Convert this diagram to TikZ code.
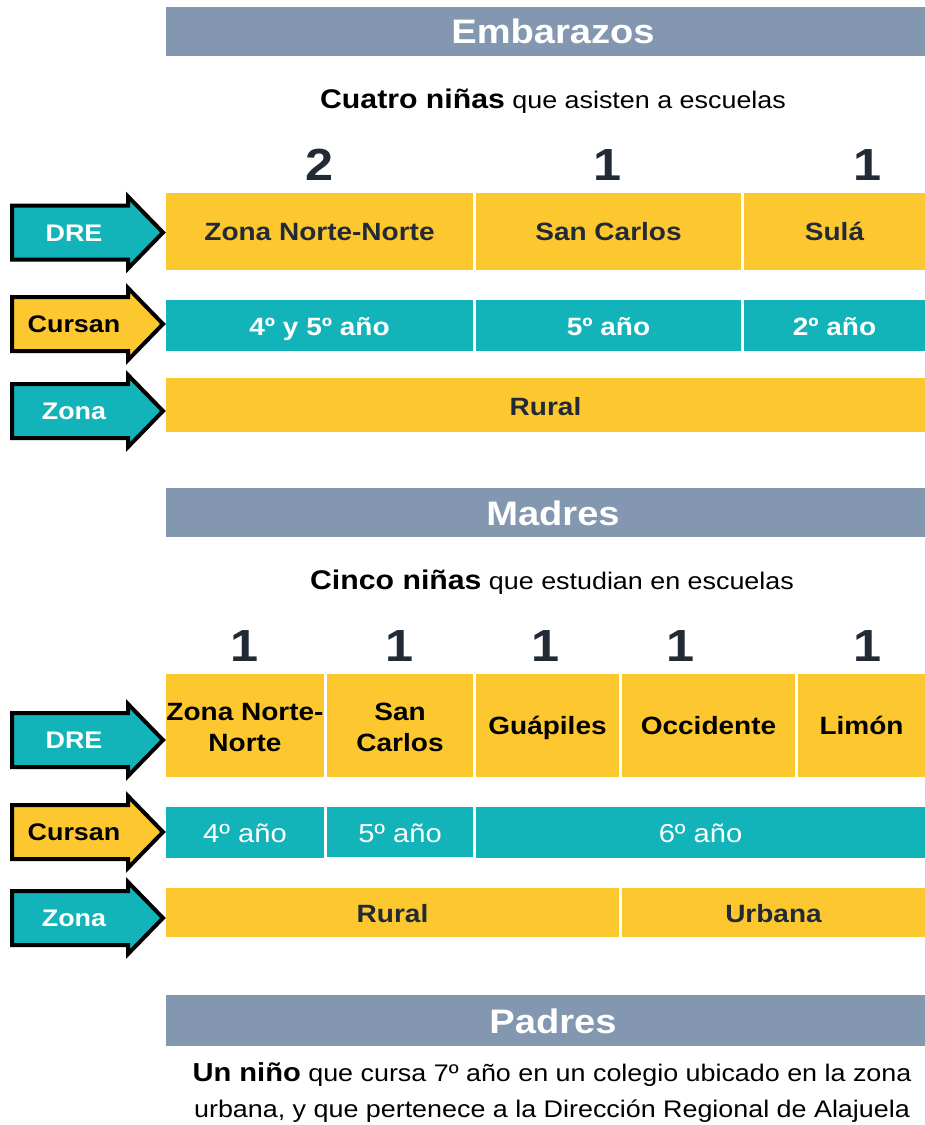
\documentclass[tikz,border=0pt]{standalone}
\usepackage{fontspec}
\setmainfont[FakeStretch=1.12]{Liberation Sans}
\definecolor{yel}{HTML}{FDC82F}
\definecolor{teal2}{HTML}{13B3BA}
\definecolor{hdr}{HTML}{8497B0}
\definecolor{dk}{HTML}{222A35}
\tikzset{
  cellt/.style={font=\bfseries\fontsize{25}{31}\selectfont, align=center, inner sep=0pt, anchor=base},
  hdrt/.style={font=\bfseries\fontsize{34}{38}\selectfont, text=white, inner sep=0pt, anchor=base},
  numt/.style={font=\bfseries\fontsize{45}{48}\selectfont, text=dk, inner sep=0pt, anchor=base},
  arrbox/.style={line width=4pt, draw=black, line join=miter},
  arrt/.style={font=\bfseries\fontsize{24}{28}\selectfont, inner sep=0pt, anchor=base},
  subt/.style={inner sep=0pt, text=black, anchor=base, font=\fontsize{24}{28}\selectfont},
  regt/.style={font=\mdseries\fontsize{26}{30}\selectfont}
}
% x1 y1 x2 y2 fill opts name baseline {text}
\newcommand\celltext[8]{%
  \fill[#5] (#1,#2) rectangle (#3,#4);
  \node[cellt,#6] (#7) at ({(#1+#3)/2},#8) }
\newcommand\rarrow[5]{%
  \draw[arrbox, fill=#2] (12,{#1-27}) -- (128,{#1-27}) -- (128,{#1-36}) -- (163,#1) -- (128,{#1+36}) -- (128,{#1+27}) -- (12,{#1+27}) -- cycle;
  \node[arrt, text=#3] (#5) at (74,{#1+8.5}) {#4};}
\begin{document}
\begin{tikzpicture}[x=1pt,y=-1pt]
\useasboundingbox (0,0) rectangle (925,1125);
\fill[white] (0,0) rectangle (925,1125);
% ---------- Embarazos
\fill[hdr] (166,7) rectangle (925,56);
\node[hdrt] (h1) at (553,43) {Embarazos};
\node[subt] (s1) at (553,108) {{\bfseries\fontsize{27}{30}\selectfont Cuatro niñas} que asisten a escuelas};
\node[numt] (n11) at (320,180) {2};
\node[numt] (n12) at (608,180) {1};
\node[numt] (n13) at (868,180) {1};
\rarrow{232.5}{teal2}{white}{DRE}{a11}
\rarrow{324}{yel}{black}{Cursan}{a12}
\rarrow{411}{teal2}{white}{Zona}{a13}
\celltext{166}{193}{473}{270}{yel}{text=dk}{d11}{240.5}{Zona Norte-Norte};
\celltext{476}{193}{741}{270}{yel}{text=dk}{d12}{240.5}{San Carlos};
\celltext{744}{193}{925}{270}{yel}{text=dk}{d13}{240.5}{Sulá};
\celltext{166}{300}{473}{351}{teal2}{text=white}{c11}{335}{4º y 5º año};
\celltext{476}{300}{741}{351}{teal2}{text=white}{c12}{335}{5º año};
\celltext{744}{300}{925}{351}{teal2}{text=white}{c13}{335}{2º año};
\celltext{166}{378}{925}{432}{yel}{text=dk}{z11}{415}{Rural};
% ---------- Madres
\fill[hdr] (166,488) rectangle (925,537);
\node[hdrt] (h2) at (553,525.5) {Madres};
\node[subt] (s2) at (552,589) {{\bfseries\fontsize{27}{30}\selectfont Cinco niñas} que estudian en escuelas};
\node[numt] (n21) at (245,661) {1};
\node[numt] (n22) at (400,661) {1};
\node[numt] (n23) at (546,661) {1};
\node[numt] (n24) at (681,661) {1};
\node[numt] (n25) at (868,661) {1};
\rarrow{740}{teal2}{white}{DRE}{a21}
\rarrow{832}{yel}{black}{Cursan}{a22}
\rarrow{918}{teal2}{white}{Zona}{a23}
\celltext{166}{674}{324}{777}{yel}{text=black}{d21}{751}{Zona Norte-\\Norte};
\celltext{327}{674}{473}{777}{yel}{text=black}{d22}{751}{San\\Carlos};
\celltext{476}{674}{619}{777}{yel}{text=black}{d23}{734.5}{Guápiles};
\celltext{622}{674}{795}{777}{yel}{text=black}{d24}{734.5}{Occidente};
\celltext{798}{674}{925}{777}{yel}{text=black}{d25}{734.5}{Limón};
\celltext{166}{807}{324}{858}{teal2}{text=white,regt}{c21}{842}{4º año};
\celltext{327}{807}{473}{857}{teal2}{text=white,regt}{c22}{842}{5º año};
\celltext{476}{807}{925}{858}{teal2}{text=white,regt}{c23}{842}{6º año};
\celltext{166}{888}{619}{937}{yel}{text=dk}{z21}{922}{Rural};
\celltext{622}{888}{925}{937}{yel}{text=dk}{z22}{922}{Urbana};
% ---------- Padres
\fill[hdr] (166,995) rectangle (925,1046);
\node[hdrt] (h3) at (553,1033) {Padres};
\node[subt] (p1) at (552,1081) {{\bfseries\fontsize{26}{28}\selectfont Un niño} que cursa 7º año en un colegio ubicado en la zona};
\node[subt] (p2) at (552,1117) {urbana, y que pertenece a la Dirección Regional de Alajuela};
\end{tikzpicture}
\end{document}
